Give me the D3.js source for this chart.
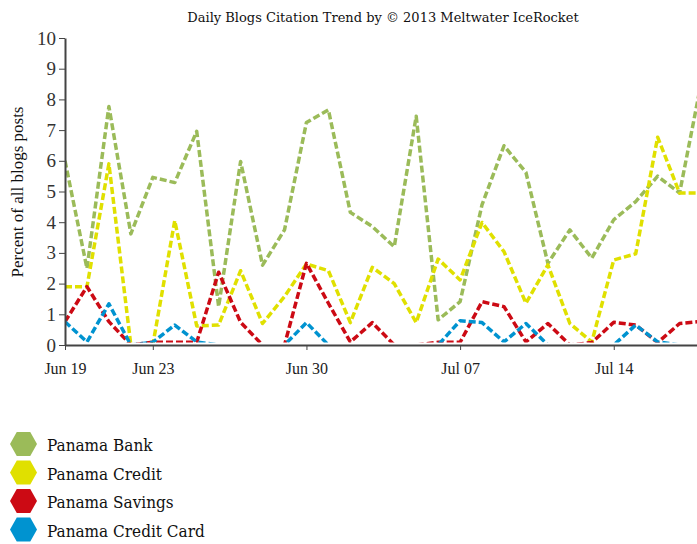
<!DOCTYPE html>
<html>
<head>
<meta charset="utf-8">
<script src="https://cdn.jsdelivr.net/npm/d3@7"></script>
<style>
  body { margin: 0; background: #fff; }
  svg { display: block; }
</style>
</head>
<body>
<svg id="chart" width="697" height="544"></svg>
<script>
// daily values, Jun 19 .. Jul 18 2013 (percent of all blog posts)
var startDay = "2013-06-19";
var seriesNames = ["Panama Bank", "Panama Credit", "Panama Savings", "Panama Credit Card"];
var seriesColors = ["#9bbb59", "#e0e000", "#cc0a14", "#0093d0"];

var bankValues = [6.0, 2.5, 7.77, 3.62, 5.46, 5.29, 6.96, 1.25, 5.98, 2.6, 3.75, 7.25, 7.66, 4.32, 3.86,
  3.2, 7.45, 0.82, 1.41, 4.57, 6.49, 5.62, 2.66, 3.75, 2.83, 4.08, 4.67, 5.5, 4.95, 8.6];
var creditValues = [1.9, 1.9, 5.9, 0, 0, 4.05, 0.62, 0.65, 2.42, 0.7, 1.58, 2.64, 2.42, 0.73, 2.53,
  2.0, 0.73, 2.8, 2.12, 3.99, 3.04, 1.36, 2.61, 0.7, 0.1, 2.77, 2.97, 6.77, 4.95, 4.95];
var savingsValues = [0.76, 1.9, 0.76, 0, 0.09, 0.09, 0.09, 2.37, 0.74, 0, 0, 2.66, 1.36, 0.1, 0.73,
  0, 0, 0.09, 0.09, 1.41, 1.25, 0.1, 0.7, 0, 0.08, 0.74, 0.65, 0.08, 0.7, 0.77];
var cardValues = [0.76, 0.1, 1.34, 0, 0.09, 0.65, 0.1, 0, 0, 0, 0, 0.73, 0, 0, 0,
  0, 0, 0, 0.79, 0.73, 0.1, 0.7, 0, 0, 0, 0, 0.65, 0.1, 0, 0];

var xTickDates = ["2013-06-19", "2013-06-23", "2013-06-30", "2013-07-07", "2013-07-14"];
var yTicks = [0, 1, 2, 3, 4, 5, 6, 7, 8, 9, 10];

var title = "Daily Blogs Citation Trend by \u00a9 2013 Meltwater IceRocket";
var yLabel = "Percent of all blogs posts";

var width = 697, height = 544;
var margin = { top: 38, left: 65, bottom: 199 };
var parse = d3.timeParse("%Y-%m-%d");
var day0 = parse(startDay);

var allValues = [bankValues, creditValues, savingsValues, cardValues];
var series = allValues.map(function (vals, i) {
  return {
    name: seriesNames[i],
    color: seriesColors[i],
    points: vals.map(function (v, d) { return { date: d3.timeDay.offset(day0, d), value: v }; })
  };
});

var svg = d3.select("#chart");

var x = d3.scaleTime()
  .domain([day0, d3.timeDay.offset(day0, bankValues.length - 1)])
  .range([margin.left, margin.left + 21.95 * (bankValues.length - 1)]);

var y = d3.scaleLinear()
  .domain([0, 10])
  .range([height - margin.bottom, margin.top]);

// title
svg.append("text")
  .attr("x", 383)
  .attr("y", 22)
  .attr("text-anchor", "middle")
  .attr("font-family", "DejaVu Serif")
  .attr("font-size", "13px")
  .attr("fill", "#111")
  .text(title);

// y axis label
svg.append("text")
  .attr("transform", "translate(23,192) rotate(-90)")
  .attr("text-anchor", "middle")
  .attr("font-family", "Liberation Serif")
  .attr("font-size", "17px")
  .attr("fill", "#111")
  .text(yLabel);

// clip so that zero values sit under the axis line
svg.append("clipPath").attr("id", "plotClip")
  .append("rect")
  .attr("x", margin.left)
  .attr("y", 0)
  .attr("width", width - margin.left)
  .attr("height", y(0) - 2.5);

var line = d3.line()
  .x(function (d) { return x(d.date); })
  .y(function (d) { return y(d.value); });

svg.append("g")
  .attr("clip-path", "url(#plotClip)")
  .selectAll("path")
  .data(series)
  .join("path")
  .attr("fill", "none")
  .attr("stroke", function (d) { return d.color; })
  .attr("stroke-width", 3.5)
  .attr("stroke-dasharray", "7,3")
  .attr("stroke-linejoin", "round")
  .attr("d", function (d) { return line(d.points); });

// axes
var xAxis = d3.axisBottom(x)
  .tickValues(xTickDates.map(parse))
  .tickFormat(d3.timeFormat("%b %d"))
  .tickSize(5)
  .tickSizeOuter(0);

var gx = svg.append("g")
  .attr("transform", "translate(0," + y(0) + ")")
  .call(xAxis);
gx.select(".domain").attr("stroke", "#444").attr("stroke-width", 2);
gx.selectAll(".tick line").attr("stroke", "#444");
gx.selectAll(".tick text")
  .attr("dy", "1.3em")
  .attr("font-family", "Liberation Serif")
  .attr("font-size", "16px")
  .attr("fill", "#222");

var yAxis = d3.axisLeft(y)
  .tickValues(yTicks)
  .tickFormat(d3.format("d"))
  .tickSize(6)
  .tickSizeOuter(0);

var gy = svg.append("g")
  .attr("transform", "translate(" + margin.left + ",0)")
  .call(yAxis);
gy.select(".domain").attr("stroke", "#444").attr("stroke-width", 2);
gy.selectAll(".tick line").attr("stroke", "#444");
gy.selectAll(".tick text")
  .attr("x", -9)
  .attr("font-family", "Liberation Serif")
  .attr("font-size", "19px")
  .attr("fill", "#333");

// legend with hexagon markers
var hex = function (cx, cy) {
  var r = 13.5, h = 12;
  return [[cx - r, cy], [cx - r / 2, cy - h], [cx + r / 2, cy - h], [cx + r, cy], [cx + r / 2, cy + h], [cx - r / 2, cy + h]]
    .map(function (p) { return p.join(","); }).join(" ");
};

var legend = svg.append("g")
  .selectAll("g")
  .data(series)
  .join("g")
  .attr("transform", function (d, i) { return "translate(0," + (444 + i * 28.5) + ")"; });

legend.append("polygon")
  .attr("points", hex(23.5, 0))
  .attr("fill", function (d) { return d.color; });

legend.append("text")
  .attr("x", 47)
  .attr("y", 7)
  .attr("font-family", "DejaVu Serif Condensed, DejaVu Serif")
  .attr("font-stretch", "condensed")
  .attr("font-size", "17px")
  .attr("fill", "#111")
  .text(function (d) { return d.name; });
</script>
</body>
</html>
